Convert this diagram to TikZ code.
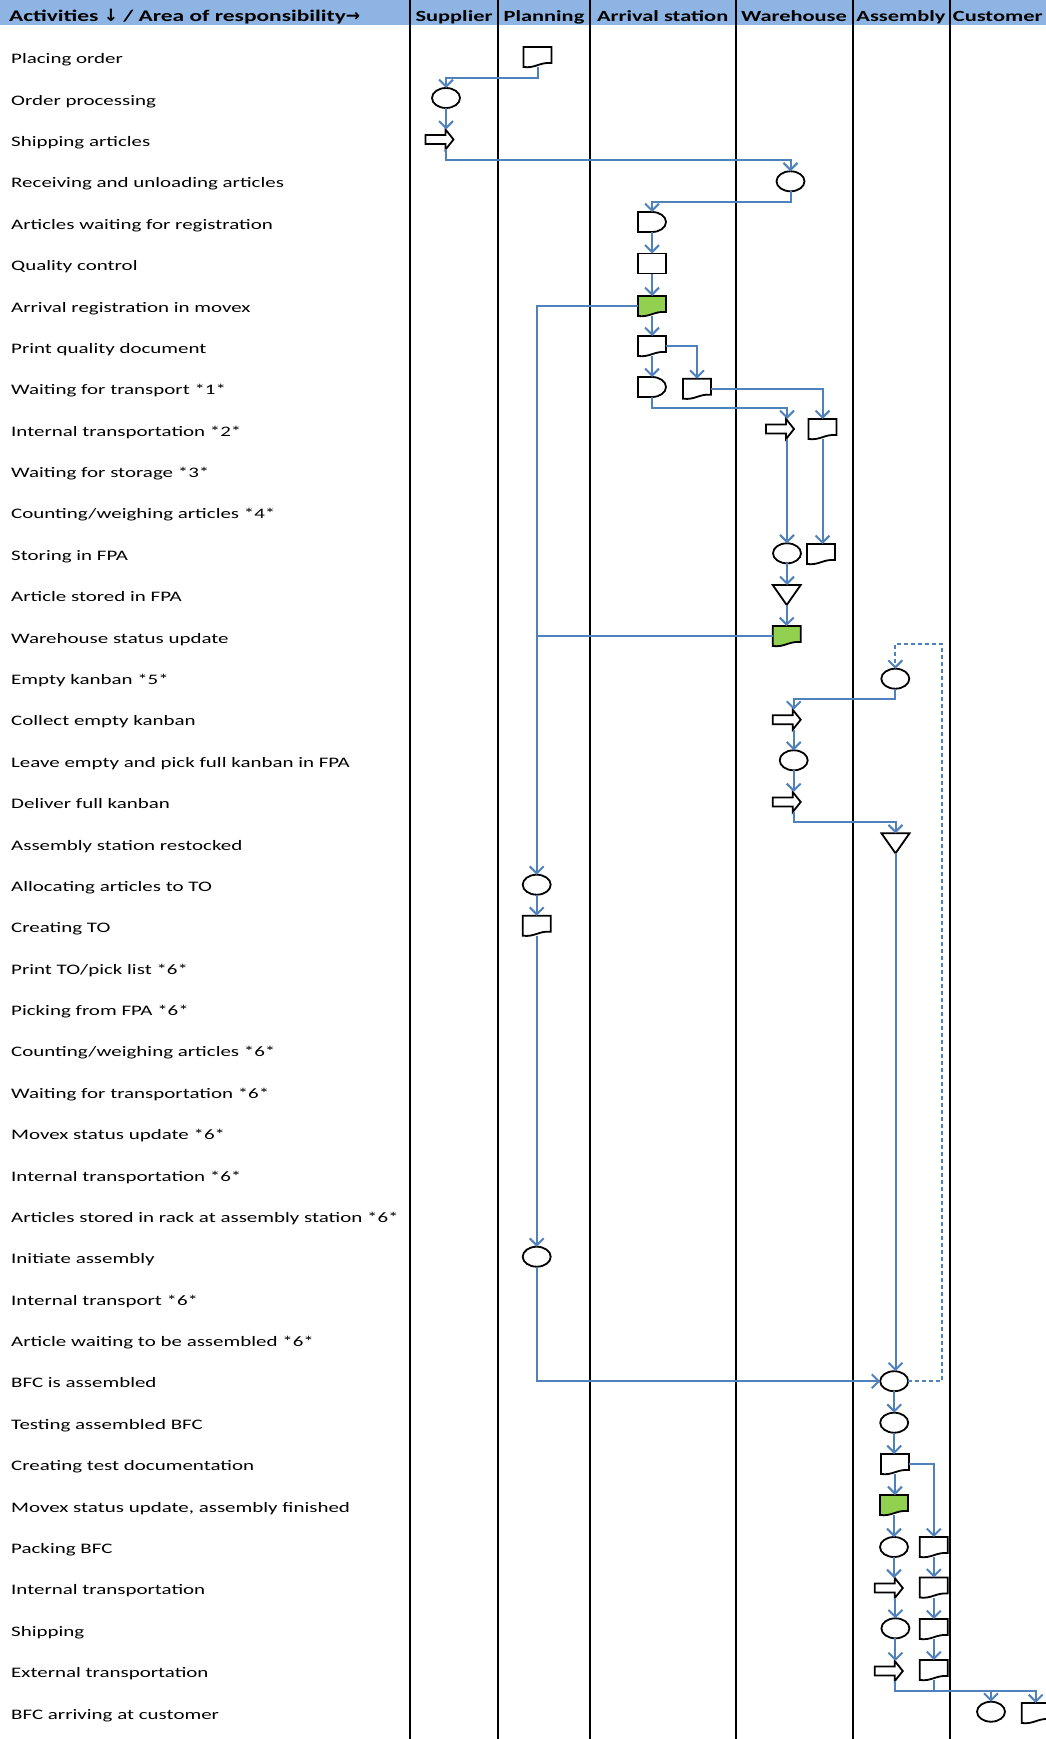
\documentclass[tikz,border=0pt]{standalone}
\usepackage{fontspec}
\setmainfont{Carlito}[FakeStretch=1.445]
\newfontfamily\arrowfont{DejaVu Sans}
\usetikzlibrary{arrows.meta}
\definecolor{hdrblue}{HTML}{8DB4E2}
\definecolor{lineblue}{HTML}{4F81BD}
\definecolor{flowgreen}{HTML}{92D050}

\tikzset{
  nb/.style={shape=rectangle, minimum width=28pt, minimum height=20pt, inner sep=0pt, outer sep=0pt, draw=none},
  sl/.style={draw=black, line width=1.8pt, line join=miter, fill=white},
  conn/.style={draw=lineblue, line width=2pt, -{Straight Barb[length=7pt,width=14pt]}},
  connplain/.style={draw=lineblue, line width=2pt},
  colline/.style={draw=black, line width=2pt},
  lbl/.style={font=\fontsize{14.5}{17}\selectfont, inner sep=0pt, anchor=base west},
  hdr/.style={font=\fontsize{15.5}{18}\selectfont\bfseries, inner sep=0pt, anchor=base},
  dashedline/.style={dash pattern=on 4pt off 3pt}
}

% shape macros: name, x, y
\newcommand\flowdoc[4][white]{\node[nb] (#2) at (#3,#4) {};
  \draw[sl,fill=#1,shift={(#3,#4)}] (-14pt,10pt) -- (14pt,10pt) -- (14pt,-6pt)
    .. controls (2pt,-5pt) and (-2pt,-11.5pt) .. (-14pt,-10pt) -- cycle;}
\newcommand\flowell[3]{\node[nb] (#1) at (#2,#3) {};
  \draw[sl] (#2,#3) ellipse [x radius=14pt, y radius=10pt];}
\newcommand\flowbox[3]{\node[nb] (#1) at (#2,#3) {};
  \draw[sl,shift={(#2,#3)}] (-14pt,-10pt) rectangle (14pt,10pt);}
\newcommand\flowdelay[3]{\node[nb] (#1) at (#2,#3) {};
  \draw[sl,shift={(#2,#3)}] (-14pt,10pt) -- (0pt,10pt)
    arc[start angle=90, end angle=-90, x radius=14pt, y radius=10pt] -- (-14pt,-10pt) -- cycle;}
\newcommand\flowarrow[3]{\node[nb] (#1) at (#2,#3) {};
  \draw[sl,shift={(#2,#3)}] (-14pt,4.5pt) -- (6pt,4.5pt) -- (6pt,10pt) -- (14pt,0pt)
    -- (6pt,-10pt) -- (6pt,-4.5pt) -- (-14pt,-4.5pt) -- cycle;}
\newcommand\flowtri[3]{\node[nb] (#1) at (#2,#3) {};
  \draw[sl,shift={(#2,#3)}] (-14pt,10pt) -- (14pt,10pt) -- (0pt,-10pt) -- cycle;}

\begin{document}
\begin{tikzpicture}[x=1pt,y=-1pt]
\useasboundingbox (0,0) rectangle (1046,1739);
\fill[white] (0,0) rectangle (1046,1739);

% header band
\fill[hdrblue] (0,0) rectangle (1046,25);
\node[hdr, anchor=base west, font=\fontsize{16.2}{19}\selectfont\bfseries] (h0) at (9,22) {Activities {\arrowfont\bfseries\fontsize{17}{19}\selectfont ↓} / Area of responsibility{\arrowfont\bfseries\fontsize{17}{19}\selectfont →}};
\node[hdr] (h1) at (454,22) {Supplier};
\node[hdr] (h2) at (544,22) {Planning};
\node[hdr] (h3) at (662.7,22) {Arrival station};
\node[hdr] (h4) at (794,22) {Warehouse};
\node[hdr] (h5) at (901,22) {Assembly};
\node[hdr] (h6) at (997.7,22) {Customer};

% column lines
\foreach \cx in {410,498,590,735.5,853,949.5}
  \draw[colline] (\cx,0) -- (\cx,1739);

% activity labels
\foreach \txt [count=\i from 0] in {
  Placing order,
  Order processing,
  Shipping articles,
  Receiving and unloading articles,
  Articles waiting for registration,
  Quality control,
  Arrival registration in movex,
  Print quality document,
  Waiting for transport *1*,
  Internal transportation *2*,
  Waiting for storage *3*,
  Counting/weighing articles *4*,
  Storing in FPA,
  Article stored in FPA,
  Warehouse status update,
  Empty kanban *5*,
  Collect empty kanban,
  Leave empty and pick full kanban in FPA,
  Deliver full kanban,
  Assembly station restocked,
  Allocating articles to TO,
  Creating TO,
  Print TO/pick list *6*,
  Picking from FPA *6*,
  Counting/weighing articles *6*,
  Waiting for transportation *6*,
  Movex status update *6*,
  Internal transportation *6*,
  Articles stored in rack at assembly station *6*,
  Initiate assembly,
  Internal transport *6*,
  Article waiting to be assembled *6*,
  BFC is assembled,
  Testing assembled BFC,
  Creating test documentation,
  {Movex status update, assembly finished},
  Packing BFC,
  Internal transportation,
  Shipping,
  External transportation,
  BFC arriving at customer}
  \node[lbl] (t\i) at (11,{63.8+41.38*\i}) {\txt};

% shapes
\flowdoc{d0}{537.5}{57}
\flowell{c1}{446}{98}
\flowarrow{a2}{439.5}{139.5}
\flowell{c3}{790.5}{181.3}
\flowdelay{delay4}{652}{222}
\flowbox{box5}{652}{263.5}
\flowdoc[flowgreen]{gdoc6}{652}{306}
\flowdoc{doc7}{652}{346}
\flowdelay{delay8}{652}{387}
\flowdoc{doc8b}{697}{388.7}
\flowarrow{arr9}{780}{429}
\flowdoc{doc9b}{822.5}{429}
\flowell{c12}{787}{553.3}
\flowdoc{doc12b}{821}{554}
\flowtri{tri13}{786.7}{595}
\flowdoc[flowgreen]{gdoc14}{786.7}{636}
\flowell{c15}{895.3}{678.7}
\flowarrow{arr16}{786.7}{719.7}
\flowell{c17}{793.7}{760.3}
\flowarrow{arr18}{786.7}{802}
\flowtri{tri19}{895.5}{843.3}
\flowell{c20}{536.7}{884.7}
\flowdoc{doc21}{536.7}{925.7}
\flowell{c29}{536.7}{1256.7}
\flowell{c32}{894.2}{1381.2}
\flowell{c33}{894.2}{1422.7}
\flowdoc{doc34}{895}{1464}
\flowdoc[flowgreen]{gdoc35}{894}{1505}
\flowell{c36}{894}{1547}
\flowdoc{doc36b}{933.8}{1547}
\flowarrow{arr37}{888.8}{1588}
\flowdoc{doc37b}{933.8}{1587.5}
\flowell{c38}{895.4}{1628.3}
\flowdoc{doc38b}{933.8}{1629}
\flowarrow{arr39}{888.8}{1671}
\flowdoc{doc39b}{933.8}{1670}
\flowell{c40}{991}{1711.7}
\flowdoc{doc40b}{1035.7}{1713}

\coordinate (dtop) at (942,644);

% connectors
\draw[conn] (d0.south) |- (c1.north |- 0,77.7) -- (c1.north);
\draw[conn] (c1.south) -- (c1.south |- a2.north);
\draw[conn] (c1.south |- a2.south) |- (c3.north |- 0,160) -- (c3.north);
\draw[conn] (c3.south) |- (delay4.north |- 0,201.7) -- (delay4.north);
\draw[conn] (delay4.south) -- (box5.north);
\draw[conn] (box5.south) -- (gdoc6.north);
\draw[conn] (gdoc6.west) -| (c20.north);
\draw[conn] (gdoc6.south) -- (doc7.north);
\draw[conn] (doc7.east) -| (doc8b.north);
\draw[conn] (doc7.south) -- (delay8.north);
\draw[conn] (delay8.south) |- (c12.north |- 0,407.7) -- (c12.north |- arr9.north);
\draw[conn] (doc8b.east) -| (doc9b.north);
\draw[conn] (c12.north |- arr9.south) -- (c12.north);
\draw[conn] (doc9b.south) -- (doc9b.south |- doc12b.north);
\draw[conn] (c12.south) -- (c12.south |- tri13.north);
\draw[conn] (tri13.south) -- (gdoc14.north);
\draw[connplain] (gdoc14.west) -- (gdoc14.west -| c20.north);
\draw[conn,dashedline] (c32.east) -| (dtop) -| (c15.north);
\draw[conn] (c15.south) |- (c17.north |- 0,699.3) -- (c17.north |- arr16.north);
\draw[conn] (c17.north |- arr16.south) -- (c17.north);
\draw[conn] (c17.south) -- (c17.south |- arr18.north);
\draw[conn] (c17.south |- arr18.south) |- (tri19.north |- 0,822.3) -- (tri19.north);
\draw[conn] (tri19.south) -- (tri19.south |- c32.north);
\draw[conn] (c20.south) -- (doc21.north);
\draw[conn] (doc21.south) -- (c29.north);
\draw[conn] (c29.south) |- (c32.west);
\draw[conn] (c32.south) -- (c33.north);
\draw[conn] (c33.south) -- (c33.south |- doc34.north);
\draw[conn] (doc34.east) -| (doc36b.north);
\draw[conn] (doc34.south) -- (doc34.south |- gdoc35.north);
\draw[conn] (gdoc35.south) -- (c36.north);
\draw[conn] (c36.south) -- (c36.south |- arr37.north);
\draw[conn] (c38.north |- arr37.south) -- (c38.north);
\draw[conn] (c38.south) -- (c38.south |- arr39.north);
\draw[conn] (doc36b.south) -- (doc37b.north);
\draw[conn] (doc37b.south) -- (doc38b.north);
\draw[conn] (doc38b.south) -- (doc39b.north);
\draw[conn] (c38.south |- arr39.south) |- (c40.north |- 0,1690.7) -- (c40.north);
\draw[conn] (c40.north |- 0,1690.7) -| (doc40b.north);
\draw[connplain] (doc39b.south) -- (doc39b.south |- 0,1690.7);
\end{tikzpicture}
\end{document}
